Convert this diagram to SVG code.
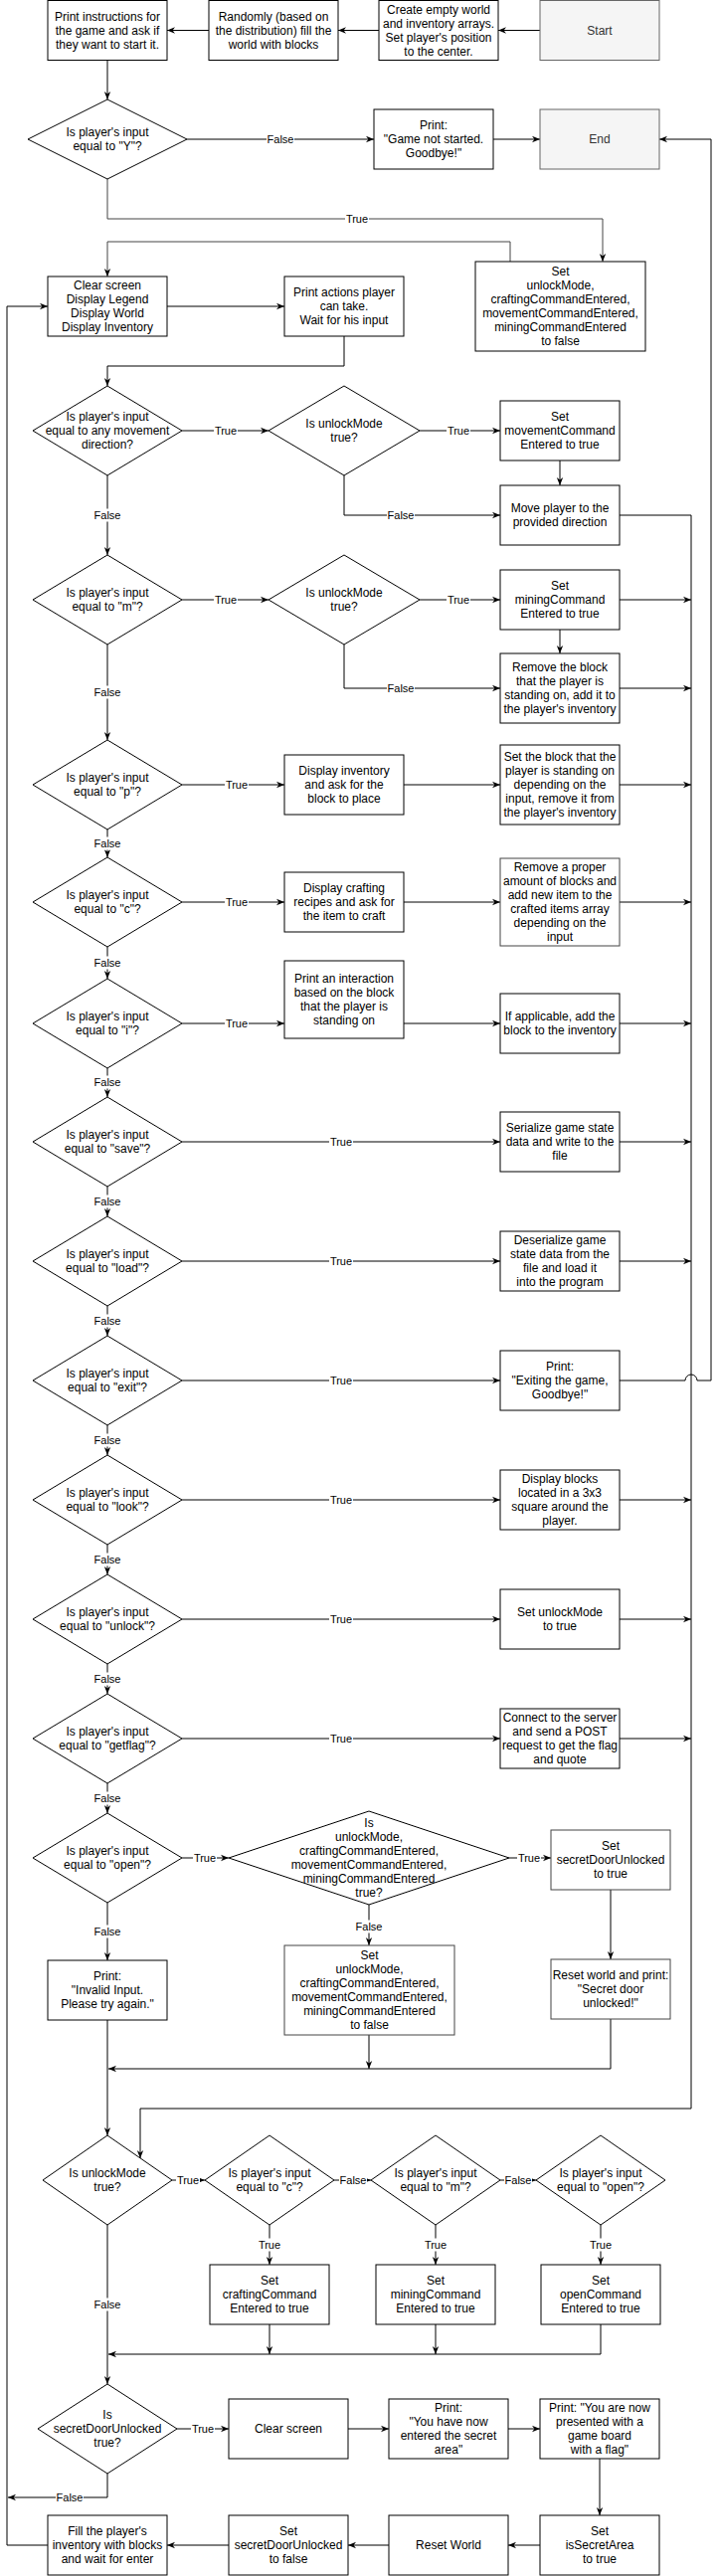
<svg xmlns="http://www.w3.org/2000/svg" width="723" height="2590" viewBox="0 0 723 2590">
<defs>
<style>
text{font-family:"Liberation Sans",Arial,Helvetica,sans-serif;font-size:12px;fill:#000;text-anchor:middle;dominant-baseline:central}
.n rect,.n polygon{fill:#fff;stroke:#000;stroke-width:1}
.n.g rect{stroke:#444}
.n.t rect{fill:#f5f5f5;stroke:#666}
.n.t text{fill:#333}
.e path{fill:none;stroke:#000;stroke-width:1;marker-end:url(#a)}
.e path.gr{stroke:#444}
.l rect{fill:#fff}
.l text{font-size:11px}
</style>
<marker id="a" viewBox="0 0 10 10" refX="10" refY="5" markerWidth="8" markerHeight="8" markerUnits="userSpaceOnUse" orient="auto"><path d="M0,1 L10,5 L0,9 L3,5 z" fill="#000"/></marker>
</defs>
<rect x="0" y="0" width="723" height="2590" fill="#fff"/>

<g id="connectors" class="e">
<path d="M543,30.5 L501,30.5"/>
<path d="M381,30.5 L340,30.5"/>
<path d="M210,30.5 L168,30.5"/>
<path d="M108,60.5 L108,100"/>
<path d="M188,140 L376,140"/>
<path d="M496,140 L543,140"/>
<path class="gr" d="M108,180 L108,220 L606,220 L606,263"/>
<path class="gr" d="M513,263 L513,243 L108,243 L108,278"/>
<path d="M168,308 L286,308"/>
<path d="M346,338 L346,368 L108,368 L108,388"/>
<path d="M183,433 L270,433"/>
<path d="M422,433 L503,433"/>
<path d="M563,463 L563,488"/>
<path d="M346,478 L346,518 L503,518"/>
<path d="M623,518 L695,518 L695,2120 L141,2120 L141,2170"/>
<path d="M108,478 L108,558"/>
<path d="M183,603 L270,603"/>
<path d="M422,603 L503,603"/>
<path d="M623,603 L695,603"/>
<path d="M563,633 L563,657"/>
<path d="M346,648 L346,692 L503,692"/>
<path d="M623,692 L695,692"/>
<path d="M108,648 L108,744"/>
<path d="M183,789 L286,789"/>
<path d="M406,789 L503,789"/>
<path d="M623,789 L695,789"/>
<path d="M108,834 L108,862"/>
<path d="M183,907 L286,907"/>
<path d="M406,907 L503,907"/>
<path d="M623,907 L695,907"/>
<path d="M108,952 L108,984"/>
<path d="M183,1029 L286,1029"/>
<path d="M406,1029 L503,1029"/>
<path d="M623,1029 L695,1029"/>
<path d="M108,1074 L108,1103"/>
<path d="M183,1148 L503,1148"/>
<path d="M623,1148 L695,1148"/>
<path d="M108,1193 L108,1223"/>
<path d="M183,1268 L503,1268"/>
<path d="M623,1268 L695,1268"/>
<path d="M108,1313 L108,1343"/>
<path d="M183,1388 L503,1388"/>
<path d="M623,1388 L689,1388 A6,6 0 0 1 701,1388 L715,1388 L715,140 L663,140"/>
<path d="M108,1433 L108,1463"/>
<path d="M183,1508 L503,1508"/>
<path d="M623,1508 L695,1508"/>
<path d="M108,1553 L108,1583"/>
<path d="M183,1628 L503,1628"/>
<path d="M623,1628 L695,1628"/>
<path d="M108,1673 L108,1703"/>
<path d="M183,1748 L503,1748"/>
<path d="M623,1748 L695,1748"/>
<path d="M108,1793 L108,1823"/>
<path d="M183,1868 L230,1868"/>
<path d="M512,1868 L554,1868"/>
<path d="M614,1900 L614,1970"/>
<path d="M371,1915 L371,1956"/>
<path d="M108,1913 L108,1971"/>
<path d="M108,2031 L108,2147"/>
<path d="M371,2046 L371,2080"/>
<path d="M614,2030 L614,2080 L109,2080"/>
<path d="M173,2192 L206,2192"/>
<path d="M336,2192 L373,2192"/>
<path d="M503,2192 L539,2192"/>
<path d="M271,2237 L271,2277"/>
<path d="M438,2237 L438,2277"/>
<path d="M604,2237 L604,2277"/>
<path d="M271,2337 L271,2367"/>
<path d="M438,2337 L438,2367"/>
<path d="M604,2337 L604,2367 L109,2367"/>
<path d="M108,2237 L108,2397"/>
<path d="M178,2442 L230,2442"/>
<path d="M350,2442 L391,2442"/>
<path d="M511,2442 L543,2442"/>
<path d="M603,2472 L603,2529"/>
<path d="M543,2559 L511,2559"/>
<path d="M391,2559 L350,2559"/>
<path d="M230,2559 L168,2559"/>
<path d="M48,2559 L7,2559 L7,308 L48,308"/>
<path d="M108,2487 L108,2511 L8,2511"/>
</g>

<g id="edge-labels" class="l">
<rect x="268" y="133.5" width="28" height="13"/><text x="282" y="140">False</text>
<rect x="347" y="213.5" width="24" height="13"/><text x="359" y="220">True</text>
<rect x="215" y="426.5" width="24" height="13"/><text x="227" y="433">True</text>
<rect x="449" y="426.5" width="24" height="13"/><text x="461" y="433">True</text>
<rect x="389" y="511.5" width="28" height="13"/><text x="403" y="518">False</text>
<rect x="94" y="511.5" width="28" height="13"/><text x="108" y="518">False</text>
<rect x="215" y="596.5" width="24" height="13"/><text x="227" y="603">True</text>
<rect x="449" y="596.5" width="24" height="13"/><text x="461" y="603">True</text>
<rect x="389" y="685.5" width="28" height="13"/><text x="403" y="692">False</text>
<rect x="94" y="689.5" width="28" height="13"/><text x="108" y="696">False</text>
<rect x="226" y="782.5" width="24" height="13"/><text x="238" y="789">True</text>
<rect x="94" y="841.5" width="28" height="13"/><text x="108" y="848">False</text>
<rect x="226" y="900.5" width="24" height="13"/><text x="238" y="907">True</text>
<rect x="94" y="961.5" width="28" height="13"/><text x="108" y="968">False</text>
<rect x="226" y="1022.5" width="24" height="13"/><text x="238" y="1029">True</text>
<rect x="94" y="1081.5" width="28" height="13"/><text x="108" y="1088">False</text>
<rect x="331" y="1141.5" width="24" height="13"/><text x="343" y="1148">True</text>
<rect x="94" y="1201.5" width="28" height="13"/><text x="108" y="1208">False</text>
<rect x="331" y="1261.5" width="24" height="13"/><text x="343" y="1268">True</text>
<rect x="94" y="1321.5" width="28" height="13"/><text x="108" y="1328">False</text>
<rect x="331" y="1381.5" width="24" height="13"/><text x="343" y="1388">True</text>
<rect x="94" y="1441.5" width="28" height="13"/><text x="108" y="1448">False</text>
<rect x="331" y="1501.5" width="24" height="13"/><text x="343" y="1508">True</text>
<rect x="94" y="1561.5" width="28" height="13"/><text x="108" y="1568">False</text>
<rect x="331" y="1621.5" width="24" height="13"/><text x="343" y="1628">True</text>
<rect x="94" y="1681.5" width="28" height="13"/><text x="108" y="1688">False</text>
<rect x="331" y="1741.5" width="24" height="13"/><text x="343" y="1748">True</text>
<rect x="94" y="1801.5" width="28" height="13"/><text x="108" y="1808">False</text>
<rect x="194" y="1861.5" width="24" height="13"/><text x="206" y="1868">True</text>
<rect x="520" y="1861.5" width="24" height="13"/><text x="532" y="1868">True</text>
<rect x="357" y="1930.5" width="28" height="13"/><text x="371" y="1937">False</text>
<rect x="94" y="1935.5" width="28" height="13"/><text x="108" y="1942">False</text>
<rect x="177" y="2185.5" width="24" height="13"/><text x="189" y="2192">True</text>
<rect x="341" y="2185.5" width="28" height="13"/><text x="355" y="2192">False</text>
<rect x="507" y="2185.5" width="28" height="13"/><text x="521" y="2192">False</text>
<rect x="259" y="2250.5" width="24" height="13"/><text x="271" y="2257">True</text>
<rect x="426" y="2250.5" width="24" height="13"/><text x="438" y="2257">True</text>
<rect x="592" y="2250.5" width="24" height="13"/><text x="604" y="2257">True</text>
<rect x="94" y="2310.5" width="28" height="13"/><text x="108" y="2317">False</text>
<rect x="192" y="2435.5" width="24" height="13"/><text x="204" y="2442">True</text>
<rect x="56" y="2504.5" width="28" height="13"/><text x="70" y="2511">False</text>
</g>

<g id="start" class="n t"><rect x="543" y="0.5" width="120" height="60"/><text x="603" y="30.5">Start</text></g>
<g id="create" class="n"><rect x="381" y="0.5" width="120" height="60"/><text x="441" y="9.5">Create empty world</text><text x="441" y="23.5">and inventory arrays.</text><text x="441" y="37.5">Set player's position</text><text x="441" y="51.5">to the center.</text></g>
<g id="fill-world" class="n"><rect x="210" y="0.5" width="130" height="60"/><text x="275" y="16.5">Randomly (based on</text><text x="275" y="30.5">the distribution) fill the</text><text x="275" y="44.5">world with blocks</text></g>
<g id="instructions" class="n"><rect x="48" y="0.5" width="120" height="60"/><text x="108" y="16.5">Print instructions for</text><text x="108" y="30.5">the game and ask if</text><text x="108" y="44.5">they want to start it.</text></g>
<g id="d-y" class="n"><polygon points="28,140 108,100 188,140 108,180"/><text x="108" y="133">Is player's input</text><text x="108" y="147">equal to "Y"?</text></g>
<g id="not-started" class="n"><rect x="376" y="110" width="120" height="60"/><text x="436" y="126">Print:</text><text x="436" y="140">"Game not started.</text><text x="436" y="154">Goodbye!"</text></g>
<g id="end" class="n t"><rect x="543" y="110" width="120" height="60"/><text x="603" y="140">End</text></g>
<g id="reset-flags-1" class="n"><rect x="478" y="263" width="171" height="90"/><text x="563.5" y="273">Set</text><text x="563.5" y="287">unlockMode,</text><text x="563.5" y="301">craftingCommandEntered,</text><text x="563.5" y="315">movementCommandEntered,</text><text x="563.5" y="329">miningCommandEntered</text><text x="563.5" y="343">to false</text></g>
<g id="display" class="n"><rect x="48" y="278" width="120" height="60"/><text x="108" y="287">Clear screen</text><text x="108" y="301">Display Legend</text><text x="108" y="315">Display World</text><text x="108" y="329">Display Inventory</text></g>
<g id="actions" class="n"><rect x="286" y="278" width="120" height="60"/><text x="346" y="294">Print actions player</text><text x="346" y="308">can take.</text><text x="346" y="322">Wait for his input</text></g>
<g id="d-move" class="n"><polygon points="33,433 108,388 183,433 108,478"/><text x="108" y="419">Is player's input</text><text x="108" y="433">equal to any movement</text><text x="108" y="447">direction?</text></g>
<g id="d-unlock-1" class="n"><polygon points="270,433 346,388 422,433 346,478"/><text x="346" y="426">Is unlockMode</text><text x="346" y="440">true?</text></g>
<g id="set-move" class="n"><rect x="503" y="403" width="120" height="60"/><text x="563" y="419">Set</text><text x="563" y="433">movementCommand</text><text x="563" y="447">Entered to true</text></g>
<g id="move" class="n"><rect x="503" y="488" width="120" height="60"/><text x="563" y="511">Move player to the</text><text x="563" y="525">provided direction</text></g>
<g id="d-m" class="n"><polygon points="33,603 108,558 183,603 108,648"/><text x="108" y="596">Is player's input</text><text x="108" y="610">equal to "m"?</text></g>
<g id="d-unlock-2" class="n"><polygon points="270,603 346,558 422,603 346,648"/><text x="346" y="596">Is unlockMode</text><text x="346" y="610">true?</text></g>
<g id="set-mine" class="n"><rect x="503" y="573" width="120" height="60"/><text x="563" y="589">Set</text><text x="563" y="603">miningCommand</text><text x="563" y="617">Entered to true</text></g>
<g id="remove-block" class="n"><rect x="503" y="657" width="120" height="70"/><text x="563" y="671">Remove the block</text><text x="563" y="685">that the player is</text><text x="563" y="699">standing on, add it to</text><text x="563" y="713">the player's inventory</text></g>
<g id="d-p" class="n"><polygon points="33,789 108,744 183,789 108,834"/><text x="108" y="782">Is player's input</text><text x="108" y="796">equal to "p"?</text></g>
<g id="disp-inv" class="n"><rect x="286" y="759" width="120" height="60"/><text x="346" y="775">Display inventory</text><text x="346" y="789">and ask for the</text><text x="346" y="803">block to place</text></g>
<g id="set-block" class="n"><rect x="503" y="749" width="120" height="80"/><text x="563" y="761">Set the block that the</text><text x="563" y="775">player is standing on</text><text x="563" y="789">depending on the</text><text x="563" y="803">input, remove it from</text><text x="563" y="817">the player's inventory</text></g>
<g id="d-c" class="n"><polygon points="33,907 108,862 183,907 108,952"/><text x="108" y="900">Is player's input</text><text x="108" y="914">equal to "c"?</text></g>
<g id="disp-craft" class="n"><rect x="286" y="877" width="120" height="60"/><text x="346" y="893">Display crafting</text><text x="346" y="907">recipes and ask for</text><text x="346" y="921">the item to craft</text></g>
<g id="craft" class="n g"><rect x="503" y="863" width="120" height="88"/><text x="563" y="872">Remove a proper</text><text x="563" y="886">amount of blocks and</text><text x="563" y="900">add new item to the</text><text x="563" y="914">crafted items array</text><text x="563" y="928">depending on the</text><text x="563" y="942">input</text></g>
<g id="d-i" class="n"><polygon points="33,1029 108,984 183,1029 108,1074"/><text x="108" y="1022">Is player's input</text><text x="108" y="1036">equal to "i"?</text></g>
<g id="interact" class="n"><rect x="286" y="966" width="120" height="78"/><text x="346" y="984">Print an interaction</text><text x="346" y="998">based on the block</text><text x="346" y="1012">that the player is</text><text x="346" y="1026">standing on</text></g>
<g id="add-block" class="n"><rect x="503" y="999" width="120" height="60"/><text x="563" y="1022">If applicable, add the</text><text x="563" y="1036">block to the inventory</text></g>
<g id="d-save" class="n"><polygon points="33,1148 108,1103 183,1148 108,1193"/><text x="108" y="1141">Is player's input</text><text x="108" y="1155">equal to "save"?</text></g>
<g id="serialize" class="n"><rect x="503" y="1118" width="120" height="60"/><text x="563" y="1134">Serialize game state</text><text x="563" y="1148">data and write to the</text><text x="563" y="1162">file</text></g>
<g id="d-load" class="n"><polygon points="33,1268 108,1223 183,1268 108,1313"/><text x="108" y="1261">Is player's input</text><text x="108" y="1275">equal to "load"?</text></g>
<g id="deserialize" class="n"><rect x="503" y="1238" width="120" height="60"/><text x="563" y="1247">Deserialize game</text><text x="563" y="1261">state data from the</text><text x="563" y="1275">file and load it</text><text x="563" y="1289">into the program</text></g>
<g id="d-exit" class="n"><polygon points="33,1388 108,1343 183,1388 108,1433"/><text x="108" y="1381">Is player's input</text><text x="108" y="1395">equal to "exit"?</text></g>
<g id="exiting" class="n"><rect x="503" y="1358" width="120" height="60"/><text x="563" y="1374">Print:</text><text x="563" y="1388">"Exiting the game,</text><text x="563" y="1402">Goodbye!"</text></g>
<g id="d-look" class="n"><polygon points="33,1508 108,1463 183,1508 108,1553"/><text x="108" y="1501">Is player's input</text><text x="108" y="1515">equal to "look"?</text></g>
<g id="look" class="n"><rect x="503" y="1478" width="120" height="60"/><text x="563" y="1487">Display blocks</text><text x="563" y="1501">located in a 3x3</text><text x="563" y="1515">square around the</text><text x="563" y="1529">player.</text></g>
<g id="d-unlock-cmd" class="n"><polygon points="33,1628 108,1583 183,1628 108,1673"/><text x="108" y="1621">Is player's input</text><text x="108" y="1635">equal to "unlock"?</text></g>
<g id="set-unlock" class="n"><rect x="503" y="1598" width="120" height="60"/><text x="563" y="1621">Set unlockMode</text><text x="563" y="1635">to true</text></g>
<g id="d-getflag" class="n"><polygon points="33,1748 108,1703 183,1748 108,1793"/><text x="108" y="1741">Is player's input</text><text x="108" y="1755">equal to "getflag"?</text></g>
<g id="connect" class="n"><rect x="503" y="1718" width="120" height="60"/><text x="563" y="1727">Connect to the server</text><text x="563" y="1741">and send a POST</text><text x="563" y="1755">request to get the flag</text><text x="563" y="1769">and quote</text></g>
<g id="d-open" class="n"><polygon points="33,1868 108,1823 183,1868 108,1913"/><text x="108" y="1861">Is player's input</text><text x="108" y="1875">equal to "open"?</text></g>
<g id="d-all" class="n"><polygon points="230,1868 371,1821 512,1868 371,1915"/><text x="371" y="1833">Is</text><text x="371" y="1847">unlockMode,</text><text x="371" y="1861">craftingCommandEntered,</text><text x="371" y="1875">movementCommandEntered,</text><text x="371" y="1889">miningCommandEntered</text><text x="371" y="1903">true?</text></g>
<g id="set-secret" class="n g"><rect x="554" y="1840" width="120" height="60"/><text x="614" y="1856">Set</text><text x="614" y="1870">secretDoorUnlocked</text><text x="614" y="1884">to true</text></g>
<g id="invalid" class="n"><rect x="48" y="1971" width="120" height="60"/><text x="108" y="1987">Print:</text><text x="108" y="2001">"Invalid Input.</text><text x="108" y="2015">Please try again."</text></g>
<g id="reset-flags-2" class="n g"><rect x="286" y="1956" width="171" height="90"/><text x="371.5" y="1966">Set</text><text x="371.5" y="1980">unlockMode,</text><text x="371.5" y="1994">craftingCommandEntered,</text><text x="371.5" y="2008">movementCommandEntered,</text><text x="371.5" y="2022">miningCommandEntered</text><text x="371.5" y="2036">to false</text></g>
<g id="reset-print" class="n g"><rect x="554" y="1970" width="120" height="60"/><text x="614" y="1986">Reset world and print:</text><text x="614" y="2000">"Secret door</text><text x="614" y="2014">unlocked!"</text></g>
<g id="d-unlock-3" class="n"><polygon points="43,2192 108,2147 173,2192 108,2237"/><text x="108" y="2185">Is unlockMode</text><text x="108" y="2199">true?</text></g>
<g id="d-c2" class="n"><polygon points="206,2192 271,2147 336,2192 271,2237"/><text x="271" y="2185">Is player's input</text><text x="271" y="2199">equal to "c"?</text></g>
<g id="d-m2" class="n"><polygon points="373,2192 438,2147 503,2192 438,2237"/><text x="438" y="2185">Is player's input</text><text x="438" y="2199">equal to "m"?</text></g>
<g id="d-open2" class="n"><polygon points="539,2192 604,2147 669,2192 604,2237"/><text x="604" y="2185">Is player's input</text><text x="604" y="2199">equal to "open"?</text></g>
<g id="set-craft" class="n"><rect x="211" y="2277" width="120" height="60"/><text x="271" y="2293">Set</text><text x="271" y="2307">craftingCommand</text><text x="271" y="2321">Entered to true</text></g>
<g id="set-mine2" class="n"><rect x="378" y="2277" width="120" height="60"/><text x="438" y="2293">Set</text><text x="438" y="2307">miningCommand</text><text x="438" y="2321">Entered to true</text></g>
<g id="set-open" class="n"><rect x="544" y="2277" width="120" height="60"/><text x="604" y="2293">Set</text><text x="604" y="2307">openCommand</text><text x="604" y="2321">Entered to true</text></g>
<g id="d-secret" class="n"><polygon points="38,2442 108,2397 178,2442 108,2487"/><text x="108" y="2428">Is</text><text x="108" y="2442">secretDoorUnlocked</text><text x="108" y="2456">true?</text></g>
<g id="clear2" class="n"><rect x="230" y="2412" width="120" height="60"/><text x="290" y="2442">Clear screen</text></g>
<g id="print-secret" class="n"><rect x="391" y="2412" width="120" height="60"/><text x="451" y="2421">Print:</text><text x="451" y="2435">"You have now</text><text x="451" y="2449">entered the secret</text><text x="451" y="2463">area"</text></g>
<g id="print-flag" class="n"><rect x="543" y="2412" width="120" height="60"/><text x="603" y="2421">Print: "You are now</text><text x="603" y="2435">presented with a</text><text x="603" y="2449">game board</text><text x="603" y="2463">with a flag"</text></g>
<g id="set-secret-area" class="n"><rect x="543" y="2529" width="120" height="60"/><text x="603" y="2545">Set</text><text x="603" y="2559">isSecretArea</text><text x="603" y="2573">to true</text></g>
<g id="reset-world" class="n"><rect x="391" y="2529" width="120" height="60"/><text x="451" y="2559">Reset World</text></g>
<g id="set-secret-false" class="n"><rect x="230" y="2529" width="120" height="60"/><text x="290" y="2545">Set</text><text x="290" y="2559">secretDoorUnlocked</text><text x="290" y="2573">to false</text></g>
<g id="fill-inventory" class="n"><rect x="48" y="2529" width="120" height="60"/><text x="108" y="2545">Fill the player's</text><text x="108" y="2559">inventory with blocks</text><text x="108" y="2573">and wait for enter</text></g>
</svg>
